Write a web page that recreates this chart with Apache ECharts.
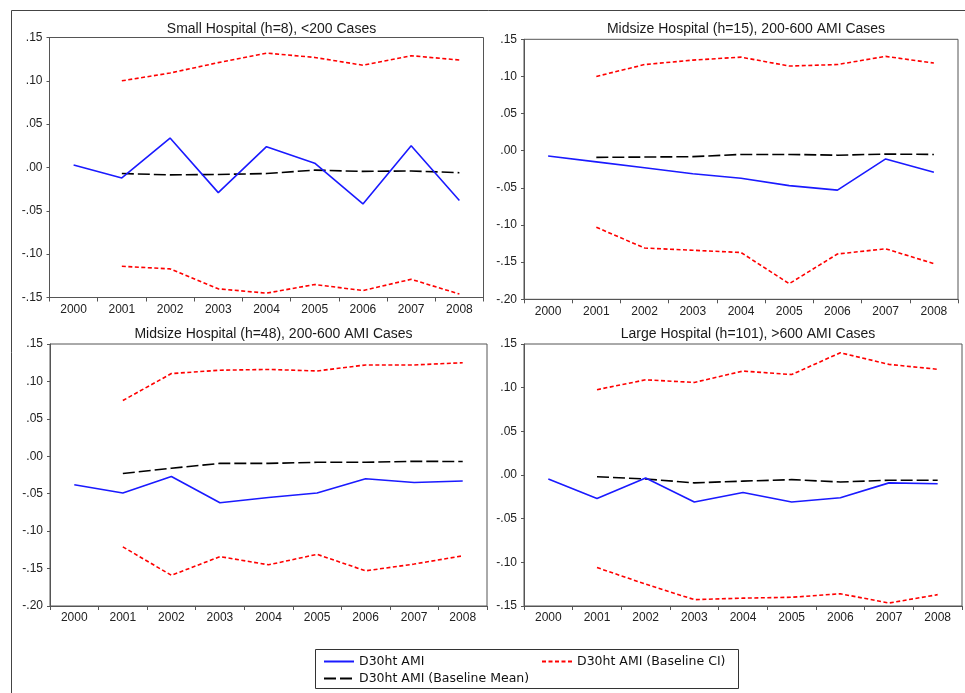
<!DOCTYPE html>
<html>
<head>
<meta charset="utf-8">
<script src="https://cdn.jsdelivr.net/npm/echarts@6/dist/echarts.min.js"></script>
<style>
html,body{margin:0;padding:0;background:#fff;}
#chart{width:965px;height:693px;}
</style>
</head>
<body>
<div id="chart"></div>
<script>
const years = ['2000','2001','2002','2003','2004','2005','2006','2007','2008'];
const titles = [
  'Small Hospital (h=8), <200 Cases',
  'Midsize Hospital (h=15), 200-600 AMI Cases',
  'Midsize Hospital (h=48), 200-600 AMI Cases',
  'Large Hospital (h=101), >600 AMI Cases'
];
const yMin = [-0.15, -0.20, -0.20, -0.15];
const yMax = [0.15, 0.15, 0.15, 0.15];

// Panel 1: Small Hospital (h=8)
const actual1 = [0.003, -0.012, 0.034, -0.029, 0.024, 0.005, -0.042, 0.025, -0.038];
const mean1   = [null, -0.007, -0.0085, -0.008, -0.007, -0.003, -0.0045, -0.004, -0.006];
const ciUp1   = [null, 0.100, 0.109, 0.121, 0.132, 0.127, 0.118, 0.129, 0.124];
const ciLo1   = [null, -0.114, -0.117, -0.140, -0.145, -0.135, -0.142, -0.129, -0.146];

// Panel 2: Midsize Hospital (h=15)
const actual2 = [-0.007, -0.015, -0.023, -0.031, -0.037, -0.047, -0.053, -0.011, -0.029];
const mean2   = [null, -0.009, -0.0085, -0.008, -0.005, -0.005, -0.006, -0.0045, -0.005];
const ciUp2   = [null, 0.100, 0.116, 0.122, 0.126, 0.114, 0.116, 0.127, 0.118];
const ciLo2   = [null, -0.103, -0.131, -0.134, -0.137, -0.179, -0.139, -0.132, -0.152];

// Panel 3: Midsize Hospital (h=48)
const actual3 = [-0.038, -0.049, -0.027, -0.062, -0.055, -0.049, -0.030, -0.035, -0.033];
const mean3   = [null, -0.023, -0.016, -0.0095, -0.0095, -0.008, -0.008, -0.0067, -0.007];
const ciUp3   = [null, 0.0745, 0.1105, 0.115, 0.116, 0.114, 0.122, 0.122, 0.125];
const ciLo3   = [null, -0.121, -0.159, -0.134, -0.145, -0.131, -0.153, -0.144, -0.133];

// Panel 4: Large Hospital (h=101)
const actual4 = [-0.0046, -0.027, -0.0034, -0.031, -0.020, -0.031, -0.026, -0.009, -0.010];
const mean4   = [null, -0.002, -0.0046, -0.009, -0.007, -0.0053, -0.008, -0.006, -0.006];
const ciUp4   = [null, 0.0977, 0.109, 0.106, 0.119, 0.115, 0.140, 0.1267, 0.121];
const ciLo4   = [null, -0.106, -0.125, -0.1427, -0.141, -0.140, -0.136, -0.1466, -0.137];

const panels = [
  {actual: actual1, mean: mean1, up: ciUp1, lo: ciLo1},
  {actual: actual2, mean: mean2, up: ciUp2, lo: ciLo2},
  {actual: actual3, mean: mean3, up: ciUp3, lo: ciLo3},
  {actual: actual4, mean: mean4, up: ciUp4, lo: ciLo4}
];

const NAME_A = 'D30ht AMI';
const NAME_CI = 'D30ht AMI (Baseline CI)';
const NAME_M = 'D30ht AMI (Baseline Mean)';

const gridPos = [
  {left: 49.5, top: 37.5, width: 434, height: 260},
  {left: 524, top: 39.3, width: 434, height: 260},
  {left: 50, top: 344, width: 437, height: 262},
  {left: 524, top: 344, width: 438, height: 262}
];
const titleTop = [17, 17, 322, 322];

const font = 'Liberation Sans, Arial, sans-serif';
const axisColor = '#555';

function fmt(v) {
  if (Math.abs(v) < 1e-9) return '.00';
  return v.toFixed(2).replace('0.', '.');
}

const grids = [], xAxes = [], yAxes = [], series = [], titleList = [];
panels.forEach((p, i) => {
  const g = gridPos[i];
  grids.push({left: g.left, top: g.top, width: g.width, height: g.height,
    show: true, borderColor: axisColor, borderWidth: 1, backgroundColor: '#fff'});
  titleList.push({text: titles[i], left: g.left + g.width / 2, top: titleTop[i], textAlign: 'center',
    textStyle: {fontFamily: font, fontSize: 14, fontWeight: 'normal', color: '#1a1a1a'}});
  xAxes.push({type: 'category', gridIndex: i, data: years, boundaryGap: true,
    axisLine: {show: true, onZero: false, lineStyle: {color: axisColor, width: 1}},
    axisTick: {show: true, length: 4, inside: false, lineStyle: {color: axisColor}},
    axisLabel: {fontFamily: font, fontSize: 12, color: '#222', margin: 6},
    splitLine: {show: false}});
  yAxes.push({type: 'value', gridIndex: i, min: yMin[i], max: yMax[i], interval: 0.05,
    axisLine: {show: true, lineStyle: {color: axisColor, width: 1}},
    axisTick: {show: true, length: 3, inside: false, lineStyle: {color: axisColor}},
    axisLabel: {fontFamily: font, fontSize: 12, color: '#222', margin: 7, formatter: fmt},
    splitLine: {show: false}});
  const base = {type: 'line', xAxisIndex: i, yAxisIndex: i, symbol: 'none', showSymbol: false,
    connectNulls: false, animation: false, silent: true};
  series.push(Object.assign({}, base, {name: NAME_CI, data: p.up, color: '#ff0000',
    lineStyle: {color: '#ff0000', width: 1.6, type: [4, 2.5]}}));
  series.push(Object.assign({}, base, {name: NAME_CI, data: p.lo, color: '#ff0000',
    lineStyle: {color: '#ff0000', width: 1.6, type: [4, 2.5]}}));
  series.push(Object.assign({}, base, {name: NAME_M, data: p.mean, color: '#000000',
    lineStyle: {color: '#000000', width: 1.6, type: [12, 4]}}));
  series.push(Object.assign({}, base, {name: NAME_A, data: p.actual, color: '#1a1aff',
    lineStyle: {color: '#1a1aff', width: 1.6, type: 'solid'}}));
});

const legendFont = {fontFamily: 'DejaVu Sans, sans-serif', fontSize: 12.5, color: '#111'};
const legendBase = {orient: 'horizontal', padding: 0, itemWidth: 30, itemHeight: 10, itemGap: 5,
  selectedMode: false, textStyle: legendFont, itemStyle: {opacity: 0}};

const option = {
  backgroundColor: '#fff',
  animation: false,
  title: titleList,
  grid: grids,
  xAxis: xAxes,
  yAxis: yAxes,
  series: series,
  legend: [
    Object.assign({}, legendBase, {data: [NAME_A], left: 323, top: 655}),
    Object.assign({}, legendBase, {data: [NAME_CI], left: 541, top: 655}),
    Object.assign({}, legendBase, {data: [NAME_M], left: 323, top: 672})
  ],
  graphic: [
    {type: 'rect', shape: {x: 11.5, y: 10.5, width: 960, height: 700}, silent: true, z: -10,
      style: {fill: 'none', stroke: '#444', lineWidth: 1}},
    {type: 'rect', shape: {x: 315.5, y: 649.5, width: 423, height: 39}, silent: true,
      style: {fill: '#fff', stroke: '#333', lineWidth: 1}, z: -5}
  ]
};

const chart = echarts.init(document.getElementById('chart'), null, {renderer: 'canvas'});
chart.setOption(option);
</script>
</body>
</html>
